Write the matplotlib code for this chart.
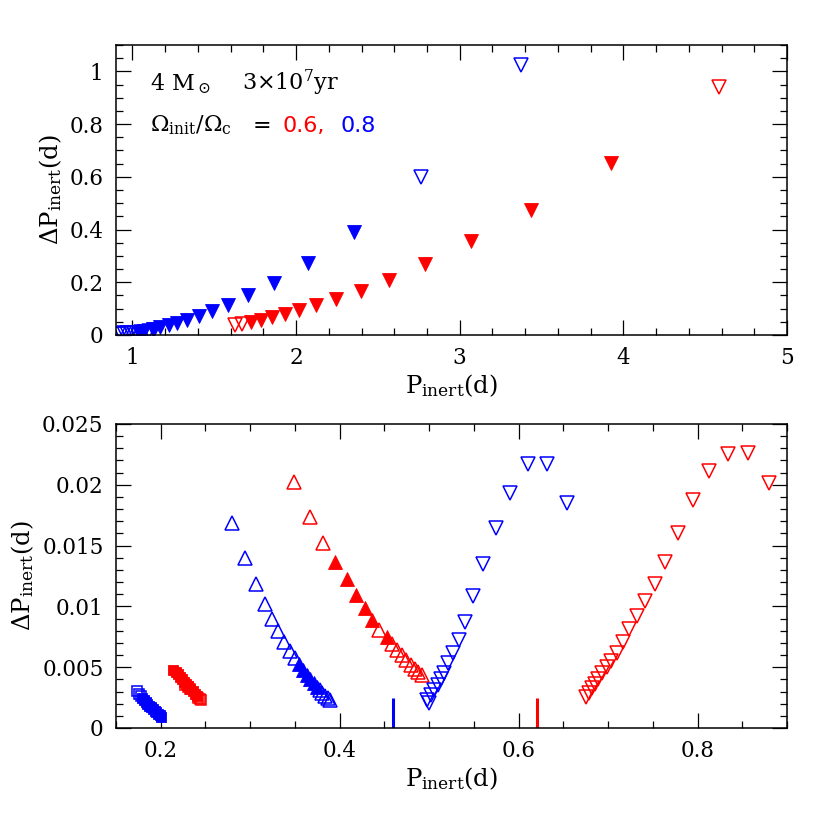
import matplotlib
matplotlib.use("Agg")
import matplotlib.pyplot as plt
from matplotlib.ticker import MultipleLocator, FuncFormatter

plt.rcParams['font.family'] = ['DejaVu Serif']
plt.rcParams['mathtext.fontset'] = 'dejavuserif'

RED = '#ff0000'
BLUE = '#0000ff'

# ---------------- top panel data (P_inert, dP_inert) ----------------
top_red_open_x = [1.626, 1.671, 4.586]
top_red_open_y = [0.037, 0.040, 0.942]
top_red_fill_x = [1.726, 1.784, 1.853, 1.931, 2.020, 2.124, 2.247, 2.394, 2.571, 2.788, 3.067, 3.435, 3.923]
top_red_fill_y = [0.049, 0.057, 0.067, 0.079, 0.094, 0.113, 0.137, 0.167, 0.208, 0.268, 0.356, 0.475, 0.652]

top_blue_open_x = [0.91, 0.93, 0.95, 0.97, 0.99, 1.01, 1.03, 1.05, 1.10, 1.13, 2.761, 3.372]
top_blue_open_y = [0.004, 0.005, 0.006, 0.006, 0.007, 0.008, 0.009, 0.010, 0.017, 0.020, 0.600, 1.025]
top_blue_fill_x = [1.043, 1.073, 1.124, 1.171, 1.222, 1.273, 1.333, 1.406, 1.488, 1.584, 1.706, 1.867, 2.075, 2.357]
top_blue_fill_y = [0.009, 0.015, 0.022, 0.029, 0.038, 0.046, 0.057, 0.072, 0.092, 0.113, 0.150, 0.199, 0.273, 0.390]

# ---------------- bottom panel data ----------------
# blue squares
bsq_open_x = [0.1732, 0.1758, 0.1780]
bsq_open_y = [0.00304, 0.00282, 0.00262]
bsq_fill_x = [0.1790, 0.1810, 0.1830, 0.1850, 0.1870, 0.1890, 0.1910, 0.1930, 0.1950, 0.1970, 0.1990, 0.2000]
bsq_fill_y = [0.00250, 0.00232, 0.00215, 0.00199, 0.00184, 0.00170, 0.00156, 0.00143, 0.00130, 0.00117, 0.00103, 0.00090]
# red squares
rsq_fill_x = [0.2142, 0.2165, 0.2190, 0.2215, 0.2240, 0.2262, 0.2285, 0.2310, 0.2330, 0.2355, 0.2380, 0.2405]
rsq_fill_y = [0.00478, 0.00460, 0.00440, 0.00420, 0.00400, 0.00382, 0.00362, 0.00342, 0.00322, 0.00302, 0.00282, 0.00262]
rsq_open_x = [0.2275, 0.2300, 0.2325, 0.2415, 0.2435, 0.2447]
rsq_open_y = [0.00355, 0.00340, 0.00320, 0.00250, 0.00240, 0.00230]
# blue up-triangles
bup_open_x = [0.2801, 0.2943, 0.3062, 0.3163, 0.3245, 0.3316, 0.3383, 0.3443, 0.3495, 0.3775, 0.3805, 0.3835, 0.3865, 0.3894]
bup_open_y = [0.01683, 0.01400, 0.01182, 0.01022, 0.00899, 0.00798, 0.00710, 0.00636, 0.00573, 0.00310, 0.00285, 0.00263, 0.00244, 0.00230]
bup_fill_x = [0.3547, 0.3592, 0.3633, 0.3670, 0.3708, 0.3742]
bup_fill_y = [0.00524, 0.00477, 0.00436, 0.00400, 0.00368, 0.00337]
# red up-triangles
rup_open_x = [0.3490, 0.3667, 0.3815, 0.4440, 0.4590, 0.4645, 0.4693, 0.4745, 0.4793, 0.4842, 0.4880, 0.4917]
rup_open_y = [0.02026, 0.01733, 0.01519, 0.00806, 0.00691, 0.00641, 0.00600, 0.00559, 0.00518, 0.00485, 0.00458, 0.00436]
rup_fill_x = [0.3950, 0.4077, 0.4187, 0.4280, 0.4358, 0.4525]
rup_fill_y = [0.01362, 0.01225, 0.01094, 0.00984, 0.00888, 0.00751]
# blue down-triangles (open)
bdn_x = [0.4976, 0.5000, 0.5020, 0.5058, 0.5095, 0.5132, 0.5170, 0.5207, 0.5263, 0.5330, 0.5404, 0.5494,
         0.5606, 0.5744, 0.5908, 0.6102, 0.6318, 0.6536]
bdn_y = [0.00230, 0.00203, 0.00271, 0.00312, 0.00354, 0.00400, 0.00455, 0.00532, 0.00620, 0.00724, 0.00874, 0.01086,
         0.01349, 0.01647, 0.01935, 0.02171, 0.02171, 0.01848]
# red down-triangles (open)
rdn_x = [0.6756, 0.6786, 0.6816, 0.6849, 0.6886, 0.6931, 0.6983, 0.7036, 0.7095, 0.7162, 0.7237, 0.7322,
         0.7416, 0.7523, 0.7640, 0.7777, 0.7944, 0.8131, 0.8343, 0.8566, 0.8797]
rdn_y = [0.00252, 0.00290, 0.00326, 0.00362, 0.00403, 0.00450, 0.00499, 0.00553, 0.00619, 0.00705, 0.00812, 0.00921,
         0.01047, 0.01184, 0.01368, 0.01606, 0.01875, 0.02113, 0.02253, 0.02259, 0.02017]
# vertical marks
vmark_x = [0.46, 0.62]
vmark_h = [0.00245, 0.00245]
vmark_c = [BLUE, RED]

fig = plt.figure(figsize=(8.3, 8.3), dpi=100)
ax1 = fig.add_axes([0.1398, 0.5964, 0.8084, 0.3494])
ax2 = fig.add_axes([0.1398, 0.1229, 0.8084, 0.3663])

TRI = 10.5
SQ = 7.0
MEW = 1.1


def pts(ax, x, y, marker, color, filled, ms):
    ax.plot(x, y, linestyle='none', marker=marker, ms=ms,
            markerfacecolor=color if filled else 'none',
            markeredgecolor=color, markeredgewidth=MEW if not filled else 0.6,
            clip_on=True)


# top
pts(ax1, top_red_fill_x, top_red_fill_y, 'v', RED, True, TRI)
pts(ax1, top_red_open_x, top_red_open_y, 'v', RED, False, TRI)
pts(ax1, top_blue_fill_x, top_blue_fill_y, 'v', BLUE, True, TRI)
pts(ax1, top_blue_open_x, top_blue_open_y, 'v', BLUE, False, TRI)

# bottom
pts(ax2, bsq_fill_x, bsq_fill_y, 's', BLUE, True, SQ)
pts(ax2, bsq_open_x, bsq_open_y, 's', BLUE, False, SQ)
pts(ax2, rsq_fill_x, rsq_fill_y, 's', RED, True, SQ)
pts(ax2, rsq_open_x, rsq_open_y, 's', RED, False, SQ)
pts(ax2, bup_open_x, bup_open_y, '^', BLUE, False, TRI)
pts(ax2, bup_fill_x, bup_fill_y, '^', BLUE, True, TRI)
pts(ax2, rup_open_x, rup_open_y, '^', RED, False, TRI)
pts(ax2, rup_fill_x, rup_fill_y, '^', RED, True, TRI)
pts(ax2, bdn_x, bdn_y, 'v', BLUE, False, TRI)
pts(ax2, rdn_x, rdn_y, 'v', RED, False, TRI)
for xv, hv, cv in zip(vmark_x, vmark_h, vmark_c):
    ax2.plot([xv, xv], [0, hv], color=cv, lw=2.2, solid_capstyle='butt')

ax1.set_xlim(0.9, 5.0)
ax1.set_ylim(0, 1.1)
ax2.set_xlim(0.15, 0.9)
ax2.set_ylim(0, 0.025)

fmt = FuncFormatter(lambda v, p: ('%g' % round(v, 6)))
for ax, xmaj, xmin, ymaj, ymin in [(ax1, 1, 0.2, 0.2, 0.05), (ax2, 0.2, 0.05, 0.005, 0.001)]:
    ax.xaxis.set_major_locator(MultipleLocator(xmaj))
    ax.xaxis.set_minor_locator(MultipleLocator(xmin))
    ax.yaxis.set_major_locator(MultipleLocator(ymaj))
    ax.yaxis.set_minor_locator(MultipleLocator(ymin))
    ax.xaxis.set_major_formatter(fmt)
    ax.yaxis.set_major_formatter(fmt)
    ax.tick_params(which='both', direction='in', top=True, right=True, labelsize=15.5, pad=9)
    ax.tick_params(which='major', length=11, width=0.9)
    ax.tick_params(which='minor', length=5, width=0.9)
    for s in ax.spines.values():
        s.set_linewidth(1.1)
    ax.set_xlabel(r'P$_{\rm inert}$(d)', fontsize=17.5, labelpad=2)
    ax.set_ylabel(r'$\Delta$P$_{\rm inert}$(d)', fontsize=17.5, labelpad=4)

# annotation in top panel
FS = 16
ax1.text(0.0507, 0.845, r'4 M$_\odot$', transform=ax1.transAxes, fontsize=FS, va='baseline')
ax1.text(0.1873, 0.845, r'3$\times$10$^7$yr', transform=ax1.transAxes, fontsize=FS, va='baseline')
ax1.text(0.0507, 0.701, r'$\Omega_{\rm init}/\Omega_{\rm c}$', transform=ax1.transAxes, fontsize=FS, va='baseline')
ax1.text(0.204, 0.701, '=', transform=ax1.transAxes, fontsize=FS, va='baseline')
ax1.text(0.2483, 0.701, '0.6,', transform=ax1.transAxes, fontsize=FS, va='baseline', color=RED,
         family='DejaVu Sans')
ax1.text(0.3338, 0.701, '0.8', transform=ax1.transAxes, fontsize=FS, va='baseline', color=BLUE,
         family='DejaVu Sans')

fig.savefig('out.png', dpi=100)
